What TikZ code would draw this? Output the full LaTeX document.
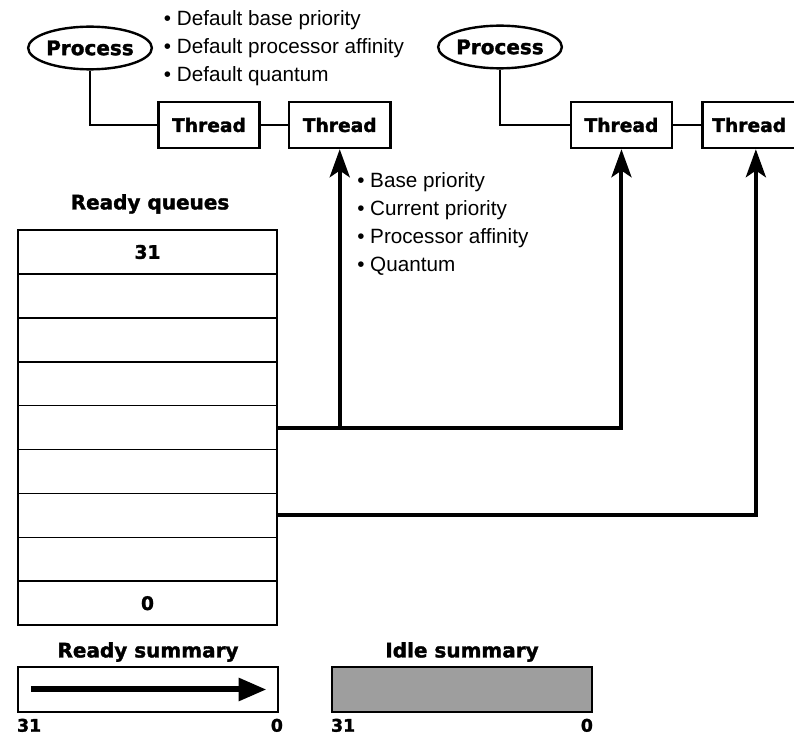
\documentclass[tikz,border=0pt]{standalone}
\usepackage{fontspec}
\setmainfont{Liberation Sans}
\newfontfamily\heavyfont[BoldFeatures={FakeBold=1.6}]{DejaVu Sans}
\usetikzlibrary{arrows.meta,positioning,shapes}

\begin{document}
\begin{tikzpicture}[x=0.75pt,y=-0.75pt,>={Stealth[length=21pt,width=15pt,inset=5pt]}]
	\tikzstyle{thread} = [draw, rectangle, line width=1.8pt, minimum height=34.5pt, minimum width=76pt, font=\heavyfont\bfseries\fontsize{14}{16}\selectfont]
	\tikzstyle{process} = [draw, ellipse, line width=1.8pt, minimum height=32pt, minimum width=84pt, inner sep=0pt, font=\heavyfont\bfseries\fontsize{15}{17}\selectfont]
	\tikzstyle{queue} = [draw, rectangle, line width=1.2pt, minimum height=32.9pt, minimum width=194pt, font=\heavyfont\bfseries\fontsize{14}{16}\selectfont]
	\tikzstyle{summary} = [draw, rectangle, line width=1.8pt, minimum height=33.75pt, minimum width=195pt]
	\tikzstyle{title} = [inner sep=0pt, font=\heavyfont\bfseries\fontsize{15}{17}\selectfont]
	\tikzstyle{digit} = [inner sep=0pt, font=\heavyfont\bfseries\fontsize{13}{15}\selectfont]
	\tikzstyle{attrs} = [align=left, anchor=west, inner sep=0pt, font=\fontsize{15.5}{21}\selectfont]
	\tikzstyle{link} = [line width=1.5pt]
	\tikzstyle{bus} = [line width=3pt]

	\useasboundingbox (0,0) rectangle (794,734);

	% processes and their threads
	\node [process] (proc1) at (90,48) {Process};
	\node [attrs, right = 8pt of proc1] (pdefaults) {\textbullet\ Default base priority\\\textbullet\ Default processor affinity\\\textbullet\ Default quantum};
	\node [thread] (t1) at (209,125) {Thread};
	\node [thread, right = 20.25pt of t1] (t2) {Thread};
	\node [attrs] (tattrs) at (357,223.5) {\textbullet\ Base priority\\\textbullet\ Current priority\\\textbullet\ Processor affinity\\\textbullet\ Quantum};

	\node [process] (proc2) at (500,47) {Process};
	\node [thread, right = 133.5pt of t2] (t3) {Thread};
	\node [thread, minimum width=70pt, right = 21pt of t3] (t4) {Thread};

	% ready queues, 31 at the top down to 0
	\node [title] (qtitle) at (150,204) {Ready queues};
	\node [queue] (q0) at (147.5,252) {31};
	\foreach \i in {1,...,7}
		\node [queue] (q\i) at (147.5,{252+43.9*\i}) {};
	\node [queue] (q8) at (147.5,603.2) {0};

	% summaries
	\node [title] (rtitle) at (148,652) {Ready summary};
	\node [summary] (rsum) at (148,689.5) {};
	\node [digit, anchor=north west] (r31) at ([yshift=-4pt]rsum.south west) {31};
	\node [digit, anchor=north east] (r0) at ([yshift=-4pt,xshift=3pt]rsum.south east) {0};

	\node [title] (ititle) at (462,652) {Idle summary};
	\node [summary, fill=black!38] (isum) at (462,689.5) {};
	\node [digit, anchor=north west] (i31) at ([yshift=-4pt]isum.south west) {31};
	\node [digit, anchor=north east] (i0) at ([yshift=-4pt]isum.south east) {0};

	\draw [link] (proc1) |- (t1);
	\draw [link] (t1) -- (t2);
	\draw [link] (proc2) |- (t3);
	\draw [link] (t3) -- (t4);

	\draw [bus,->] (q4.east) -| (t3.south);
	\draw [bus,->] (q4.east -| t2.south) -- (t2.south);
	\draw [bus,->] (q6.east) -| ([xshift=5pt]t4.south);

	\draw [line width=4.5pt, -{Triangle[length=21pt,width=16.5pt]}] ([xshift=10.5pt]rsum.west) -- ([xshift=-9.5pt]rsum.east);
\end{tikzpicture}
\end{document}
